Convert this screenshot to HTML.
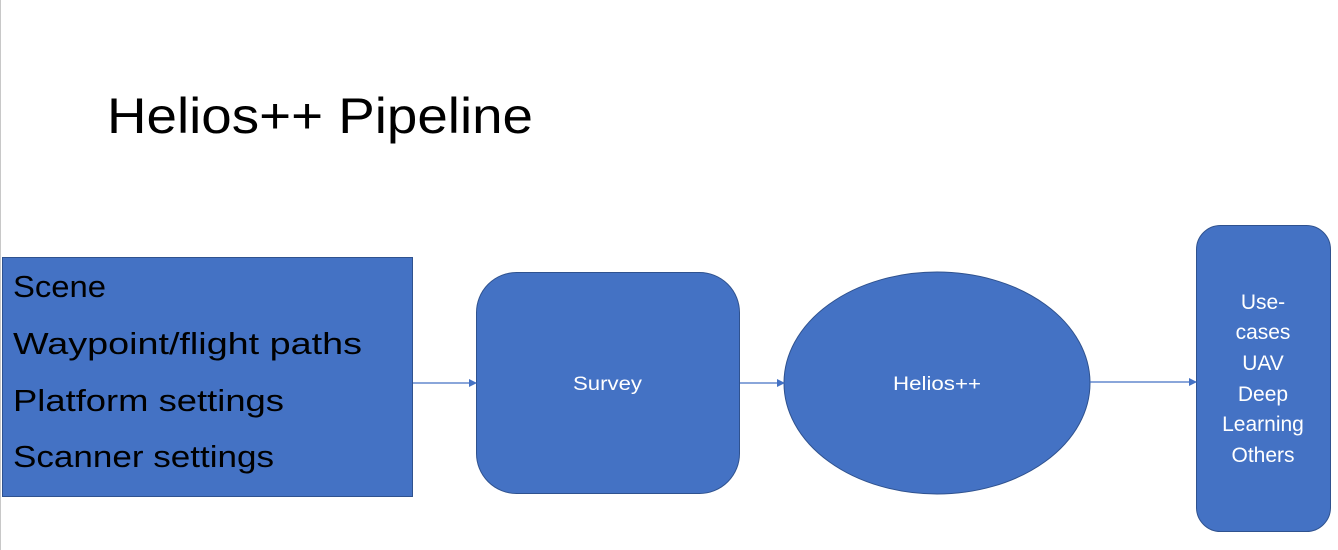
<!DOCTYPE html>
<html><head><style>
html,body{margin:0;padding:0;background:#fff;}
svg{display:block;}
text{font-family:"Liberation Sans",sans-serif;}
</style></head><body>
<svg width="1338" height="550" viewBox="0 0 1338 550" xmlns="http://www.w3.org/2000/svg">
<defs><marker id="a" markerWidth="8" markerHeight="8" refX="7" refY="4" orient="auto" markerUnits="userSpaceOnUse"><path d="M0,0 L8,4 L0,8 z" fill="#4472c4"/></marker></defs>
<line x1="0.5" y1="0" x2="0.5" y2="550" stroke="#c8c8c8" stroke-width="1"/>
<text x="107" y="133" font-size="50" fill="#000" textLength="426" lengthAdjust="spacingAndGlyphs">Helios++ Pipeline</text>
<rect x="2.5" y="257.5" width="410" height="239" fill="#4472c4" stroke="#2f528f"/>
<g font-size="31" fill="#000">
<text x="13" y="297" textLength="93" lengthAdjust="spacingAndGlyphs">Scene</text>
<text x="13" y="354" textLength="349" lengthAdjust="spacingAndGlyphs">Waypoint/flight paths</text>
<text x="13" y="411" textLength="271" lengthAdjust="spacingAndGlyphs">Platform settings</text>
<text x="13" y="467" textLength="261" lengthAdjust="spacingAndGlyphs">Scanner settings</text>
</g>
<rect x="476.5" y="272.5" width="263" height="221" rx="40" fill="#4472c4" stroke="#2f528f"/>
<text x="573" y="390" font-size="19" fill="#fff" textLength="69" lengthAdjust="spacingAndGlyphs">Survey</text>
<ellipse cx="937" cy="383" rx="153" ry="111" fill="#4472c4" stroke="#2f528f"/>
<text x="893" y="390" font-size="19" fill="#fff" textLength="88" lengthAdjust="spacingAndGlyphs">Helios++</text>
<rect x="1196.5" y="225.5" width="134" height="306" rx="24" fill="#4472c4" stroke="#2f528f"/>
<g font-size="21" fill="#fff" text-anchor="middle">
<text x="1263" y="309">Use-</text>
<text x="1263" y="339">cases</text>
<text x="1263" y="370">UAV</text>
<text x="1263" y="401">Deep</text>
<text x="1263" y="431">Learning</text>
<text x="1263" y="462">Others</text>
</g>
<g stroke="#4472c4" stroke-width="1.2">
<line x1="413" y1="383" x2="476" y2="383" marker-end="url(#a)"/>
<line x1="740" y1="383" x2="784" y2="383" marker-end="url(#a)"/>
<line x1="1090" y1="382" x2="1196" y2="382" marker-end="url(#a)"/>
</g>
</svg>
</body></html>
